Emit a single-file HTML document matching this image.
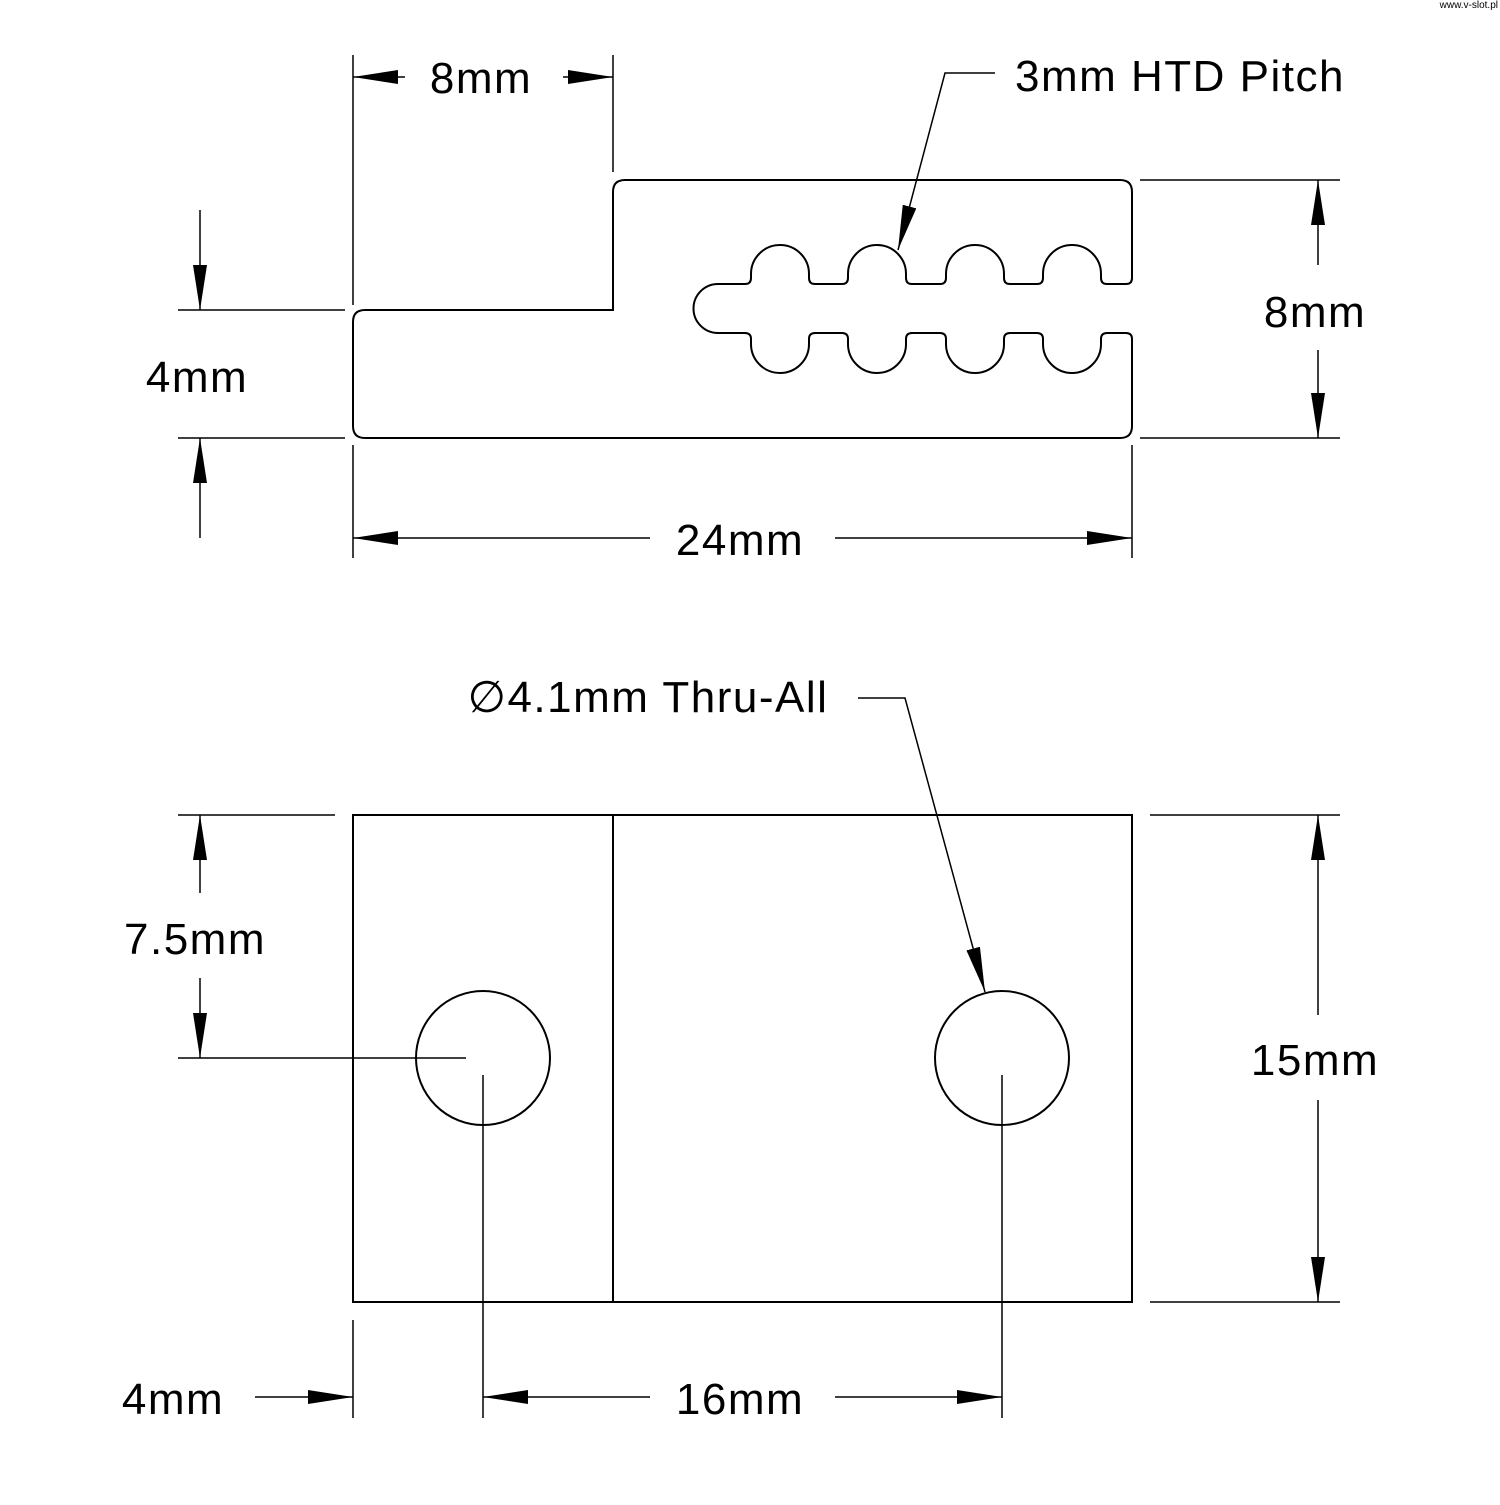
<!DOCTYPE html>
<html><head><meta charset="utf-8"><style>html,body{margin:0;padding:0;background:#fff}</style></head>
<body>
<svg width="1500" height="1500" viewBox="0 0 1500 1500" xmlns="http://www.w3.org/2000/svg">
<defs>
<marker id="a" markerUnits="userSpaceOnUse" markerWidth="46" markerHeight="16" refX="45" refY="7" orient="auto">
<path d="M0,0 L45,7 L0,14 z" fill="#000"/>
</marker>
</defs>
<g fill="none" stroke="#000" stroke-width="2">
<path d="M1132 192 L1132 278 Q1132 284 1126 284 L1107 284 Q1101 284 1101 278 L1101 274 A29 29 0 0 0 1043 274 L1043 278 Q1043 284 1037 284 L1010 284 Q1004 284 1004 278 L1004 274 A29 29 0 0 0 946 274 L946 278 Q946 284 940 284 L912 284 Q906 284 906 278 L906 274 A29 29 0 0 0 848 274 L848 278 Q848 284 842 284 L815 284 Q809 284 809 278 L809 274 A29 29 0 0 0 751 274 L751 278 Q751 284 745 284 L718 284 A24.5 24.5 0 0 0 718 333 L745 333 Q751 333 751 339 L751 344 A29 29 0 0 0 809 344 L809 339 Q809 333 815 333 L842 333 Q848 333 848 339 L848 344 A29 29 0 0 0 906 344 L906 339 Q906 333 912 333 L940 333 Q946 333 946 339 L946 344 A29 29 0 0 0 1004 344 L1004 339 Q1004 333 1010 333 L1037 333 Q1043 333 1043 339 L1043 344 A29 29 0 0 0 1101 344 L1101 339 Q1101 333 1107 333 L1126 333 Q1132 333 1132 339 L1132 426 Q1132 438 1120 438 L365 438 Q353 438 353 426 L353 322 Q353 310 365 310 L613 310 L613 192 Q613 180 625 180 L1120 180 Q1132 180 1132 192 Z"/>
</g>
<g fill="none" stroke="#000" stroke-width="1.5">
<line x1="353" y1="55" x2="353" y2="305"/>
<line x1="613" y1="55" x2="613" y2="172"/>
<line x1="405" y1="77" x2="353" y2="77" marker-end="url(#a)"/>
<line x1="563" y1="77" x2="613" y2="77" marker-end="url(#a)"/>
<line x1="178" y1="310" x2="345" y2="310"/>
<line x1="178" y1="438" x2="345" y2="438"/>
<line x1="200" y1="210" x2="200" y2="310" marker-end="url(#a)"/>
<line x1="200" y1="538" x2="200" y2="438" marker-end="url(#a)"/>
<line x1="1140" y1="180" x2="1340" y2="180"/>
<line x1="1140" y1="438" x2="1340" y2="438"/>
<line x1="1318" y1="265" x2="1318" y2="180" marker-end="url(#a)"/>
<line x1="1318" y1="350" x2="1318" y2="438" marker-end="url(#a)"/>
<line x1="353" y1="445" x2="353" y2="558"/>
<line x1="1132" y1="445" x2="1132" y2="558"/>
<line x1="650" y1="538" x2="353" y2="538" marker-end="url(#a)"/>
<line x1="835" y1="538" x2="1132" y2="538" marker-end="url(#a)"/>
<polyline points="995,73 945,73 898,250" marker-end="url(#a)"/>
<rect x="353" y="815" width="779" height="487" stroke-width="2"/>
<line x1="613" y1="815" x2="613" y2="1302" stroke-width="2"/>
<circle cx="483" cy="1058" r="67" stroke-width="2"/>
<circle cx="1002" cy="1058" r="67" stroke-width="2"/>
<line x1="178" y1="1058" x2="466" y2="1058"/>
<line x1="483" y1="1075" x2="483" y2="1418"/>
<line x1="1002" y1="1075" x2="1002" y2="1418"/>
<line x1="178" y1="815" x2="335" y2="815"/>
<line x1="200" y1="893" x2="200" y2="815" marker-end="url(#a)"/>
<line x1="200" y1="978" x2="200" y2="1058" marker-end="url(#a)"/>
<line x1="1150" y1="815" x2="1340" y2="815"/>
<line x1="1150" y1="1302" x2="1340" y2="1302"/>
<line x1="1318" y1="1015" x2="1318" y2="815" marker-end="url(#a)"/>
<line x1="1318" y1="1100" x2="1318" y2="1302" marker-end="url(#a)"/>
<line x1="353" y1="1320" x2="353" y2="1418"/>
<line x1="255" y1="1397" x2="353" y2="1397" marker-end="url(#a)"/>
<line x1="650" y1="1397" x2="483" y2="1397" marker-end="url(#a)"/>
<line x1="835" y1="1397" x2="1002" y2="1397" marker-end="url(#a)"/>
<polyline points="858,698 905,698 985,992" marker-end="url(#a)"/>
</g>
<g font-family="Liberation Sans, sans-serif" font-size="44" letter-spacing="1.5" fill="#000" text-anchor="middle">
<text x="481" y="93">8mm</text>
<text x="197" y="392">4mm</text>
<text x="1315" y="327">8mm</text>
<text x="740" y="555">24mm</text>
<text x="1180" y="91">3mm HTD Pitch</text>
<text x="648" y="712">∅4.1mm Thru-All</text>
<text x="195" y="954">7.5mm</text>
<text x="1315" y="1075">15mm</text>
<text x="173" y="1414">4mm</text>
<text x="740" y="1414">16mm</text>
</g>
<text x="1498" y="8" font-family="Liberation Sans, sans-serif" font-size="10" text-anchor="end" fill="#000">www.v-slot.pl</text>
</svg>
</body></html>
